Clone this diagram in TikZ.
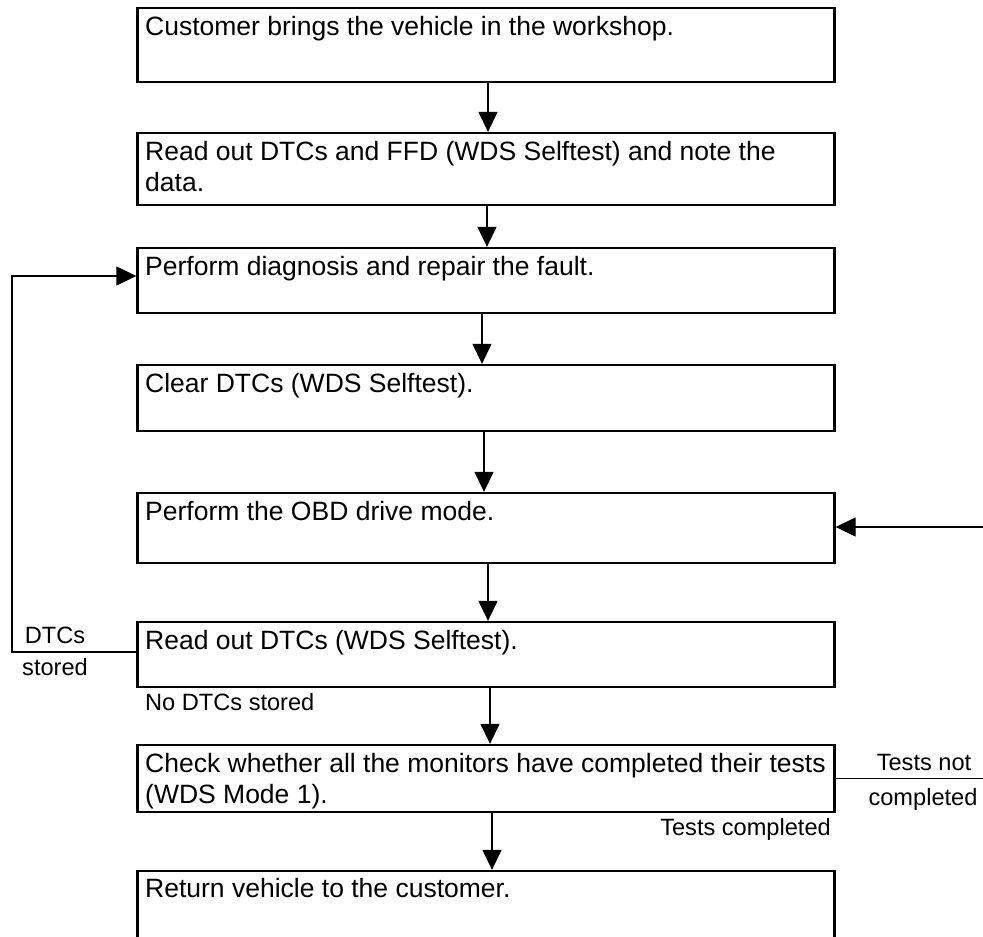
\documentclass[tikz,border=0pt]{standalone}
\usepackage{fontspec}
\setmainfont{Liberation Sans}
\usetikzlibrary{arrows.meta}
\begin{document}
\begin{tikzpicture}[x=1pt,y=-1pt,
  box/.style={draw, line width=2.3pt, minimum width=697pt, inner sep=0pt},
  btxt/.style={anchor=base west, inner sep=0pt, font=\fontsize{26.5}{31}\selectfont},
  ltxt/.style={inner sep=0pt, font=\fontsize{23.6}{28}\selectfont},
  arr/.style={line width=1.3pt, -{Triangle[length=20pt,width=19pt]}},
  conn/.style={line width=1.3pt}]
\useasboundingbox (0,0) rectangle (983,937);
\clip (0,0) rectangle (983,937);
% boxes
\node[box, minimum height=74pt] (b1) at (486,45) {};
\node[box, minimum height=72pt] (b2) at (486,169) {};
\node[box, minimum height=65pt] (b3) at (486,280.5) {};
\node[box, minimum height=66pt] (b4) at (486,398) {};
\node[box, minimum height=70pt] (b5) at (486,528) {};
\node[box, minimum height=65pt] (b6) at (486,654.5) {};
\node[box, minimum height=67pt] (b7) at (486,778.5) {};
\node[box, minimum height=89pt] (b8) at (486,915.5) {};
% box texts
\node[btxt] (t1) at (145,35) {Customer brings the vehicle in the workshop.};
\node[btxt] (t2a) at (145,160) {Read out DTCs and FFD (WDS Selftest) and note the};
\node[btxt] (t2b) at (145,191) {data.};
\node[btxt] (t3) at (145,275) {Perform diagnosis and repair the fault.};
\node[btxt] (t4) at (145,392) {Clear DTCs (WDS Selftest).};
\node[btxt] (t5) at (145,520) {Perform the OBD drive mode.};
\node[btxt] (t6) at (145,649) {Read out DTCs (WDS Selftest).};
\node[btxt] (t7a) at (145,772) {Check whether all the monitors have completed their tests};
\node[btxt] (t7b) at (145,803) {(WDS Mode 1).};
\node[btxt] (t8) at (145,897) {Return vehicle to the customer.};
% labels
\node[ltxt, anchor=base] (l1a) at (55,643) {DTCs};
\node[ltxt, anchor=base] (l1b) at (55,675) {stored};
\node[ltxt, anchor=base west] (l2) at (145,710) {No DTCs stored};
\node[ltxt, anchor=base] (l3a) at (924,770) {Tests not};
\node[ltxt, anchor=base] (l3b) at (923,805) {completed};
\node[ltxt, anchor=base east] (l4) at (831,835) {Tests completed};
% main flow
\draw[arr] ([xshift=2pt]b1.south) -- ([xshift=2pt]b2.north);
\draw[arr] ([xshift=1pt]b2.south) -- ([xshift=1pt]b3.north);
\draw[arr] ([xshift=-4pt]b3.south) -- ([xshift=-4pt]b4.north);
\draw[arr] ([xshift=-2pt]b4.south) -- ([xshift=-2pt]b5.north);
\draw[arr] ([xshift=2pt]b5.south) -- ([xshift=2pt]b6.north);
\draw[arr] ([xshift=4pt]b6.south) -- ([xshift=4pt]b7.north);
\draw[arr] ([xshift=6pt]b7.south) -- ([xshift=6pt]b8.north);
% feedback left
\coordinate (lt) at (12,276);
\draw[arr] ([yshift=2.5pt]b6.west) -| (lt) -- ([yshift=4.5pt]b3.west);
% feedback right
\coordinate (rr1) at (1000,778.5);
\coordinate (rr2) at (1000,527);
\draw[arr] (b7.east) -- (rr1) -- (rr2) -- ([yshift=1pt]b5.east);
\end{tikzpicture}
\end{document}
